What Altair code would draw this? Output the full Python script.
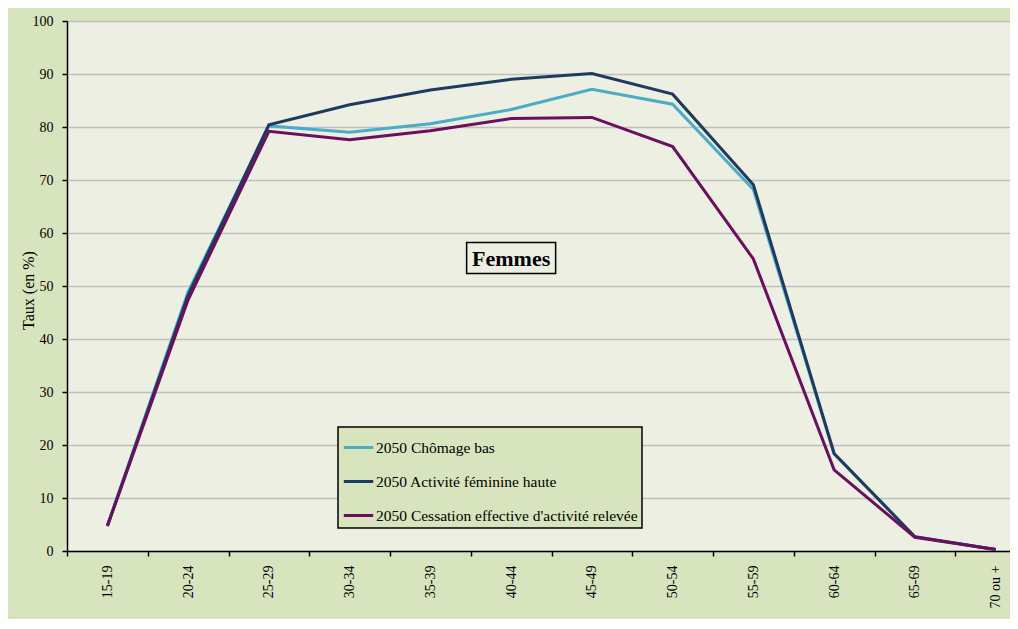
import altair as alt
import pandas as pd

ages = ["15-19", "20-24", "25-29", "30-34", "35-39", "40-44",
        "45-49", "50-54", "55-59", "60-64", "65-69", "70 ou +"]
series_names = ["2050 Chômage bas",
                "2050 Activité féminine haute",
                "2050 Cessation effective d'activité relevée"]
chomage_bas = [4.8, 48.9, 80.2, 79.0, 80.6, 83.3, 87.1, 84.3, 68.2, 18.3, 2.7, 0.3]
activite_feminine_haute = [4.7, 48.3, 80.4, 84.2, 87.0, 89.0, 90.1, 86.2, 69.1, 18.4, 2.7, 0.3]
cessation_relevee = [4.7, 47.4, 79.2, 77.6, 79.3, 81.6, 81.8, 76.3, 55.1, 15.3, 2.6, 0.3]
series_colors = ["#4BACC6", "#1F3A5F", "#6B0F5E"]
y_ticks = [0, 10, 20, 30, 40, 50, 60, 70, 80, 90, 100]

annot_label = ["Femmes"]
annot_age = ["40-44"]
annot_taux = [55.3]

rows = []
for name, vals in zip(series_names, [chomage_bas, activite_feminine_haute, cessation_relevee]):
    for a, v in zip(ages, vals):
        rows.append({"age": a, "taux": v, "serie": name})
df = pd.DataFrame(rows)
annot = pd.DataFrame({"age": annot_age, "taux": annot_taux, "label": annot_label})

FONT = "Liberation Serif"

x_scale = alt.Scale(type="band", domain=ages, range=[0, 969], paddingInner=0, paddingOuter=0)
y_scale = alt.Scale(domain=[0, 100])

x_enc = alt.X("age:N", sort=ages, scale=x_scale, bandPosition=0.5,
              axis=alt.Axis(title=None, labelAngle=270, labelAlign="right", labelBaseline="middle",
                            tickBand="extent", tickSize=5, labelPadding=9, grid=False,
                            labelFont=FONT, labelFontSize=14))
y_enc = alt.Y("taux:Q", scale=y_scale,
              axis=alt.Axis(title="Taux (en %)", values=y_ticks, tickSize=5, labelPadding=9,
                            grid=True, gridColor="#BFBFBF", gridWidth=1.5,
                            labelFont=FONT, labelFontSize=14,
                            titleFont=FONT, titleFontSize=16, titleFontWeight="normal",
                            titleColor="black", titleAngle=270, titleAlign="center",
                            titleBaseline="middle", titleX=-39, titleY=269))

lines = alt.Chart(df).mark_line(strokeWidth=3).encode(
    x=x_enc,
    y=y_enc,
    color=alt.Color("serie:N", sort=series_names,
                    scale=alt.Scale(domain=series_names, range=series_colors),
                    legend=alt.Legend(title=None, orient="none", legendX=271, legendY=406,
                                      symbolType="stroke", symbolSize=864, symbolStrokeWidth=3,
                                      labelFont=FONT, labelFontSize=15.5, labelColor="black",
                                      labelLimit=500, labelOffset=1,
                                      fillColor="#D7E4BD", strokeColor="black",
                                      padding=4, rowPadding=9)),
)

box = alt.Chart(annot).mark_point(shape="M-1,-0.348H1V0.348H-1Z", size=7921, filled=False,
                                  color="black", strokeWidth=1.5, opacity=1).encode(
    x=alt.X("age:N", sort=ages, scale=x_scale, bandPosition=0.5),
    y=alt.Y("taux:Q", scale=y_scale),
)

text = alt.Chart(annot).mark_text(font=FONT, fontSize=22, fontWeight="bold", color="black",
                                  baseline="middle", dy=1).encode(
    x=alt.X("age:N", sort=ages, scale=x_scale, bandPosition=0.5),
    y=alt.Y("taux:Q", scale=y_scale),
    text="label:N",
)

chart = alt.layer(lines, box, text).properties(
    width=943, height=530,
    autosize=alt.AutoSizeParams(type="none"),
    padding={"left": 59, "top": 13, "right": 0, "bottom": 68},
    background="#D7E4BD",
).configure_view(
    fill="#ECEFE1", stroke="transparent"
).configure_axis(
    domainColor="black", tickColor="black", labelColor="black", domainWidth=1.5, tickWidth=1.5
).configure_legend(
    strokeWidth=1.5
)

chart.save("out.html", embed_options={"renderer": "svg", "actions": False})
